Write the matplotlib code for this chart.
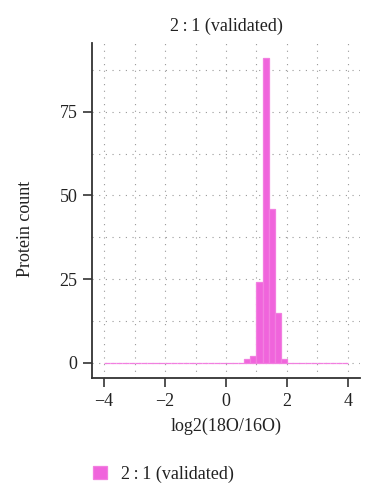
import numpy as np
import matplotlib
matplotlib.use("Agg")
import matplotlib.pyplot as plt

plt.rcParams['font.family'] = ['Liberation Serif', 'DejaVu Serif']

# Data
bin_edges = np.round(np.arange(-4.0, 4.0001, 0.2), 2)
bin_left = bin_edges[:-1]
counts = np.zeros(len(bin_left))
# nonzero bins
nonzero_bins = [0.6, 0.8, 1.0, 1.2, 1.4, 1.6, 1.8]
nonzero_counts = [1, 2, 24, 91, 46, 15, 1]
for b, c in zip(nonzero_bins, nonzero_counts):
    counts[np.argmin(np.abs(bin_left - b))] = c

series_name = "2\u2009:\u20091 (validated)"
x_ticks = [-4, -2, 0, 2, 4]
y_ticks = [0, 25, 50, 75]

bar_color = '#F064DC'
axis_color = '#333333'

fig = plt.figure(figsize=(3.73, 5.0), dpi=100)
ax = fig.add_axes([92/373, 1-378/500, (360-92)/373, (378-43)/500])

ax.bar(bin_left, counts, width=0.2, align='edge', color=bar_color,
       edgecolor='#F27FE0', linewidth=0.9, label=series_name, zorder=3)

ax.set_xlim(-4.4, 4.4)
ax.set_ylim(-4.55, 95.55)
ax.set_xticks(x_ticks)
ax.set_xticklabels([str(t).replace('-', '\u2212') for t in x_ticks])
ax.set_yticks(y_ticks)
ax.set_xticks(np.arange(-3, 4, 2), minor=True)
ax.set_yticks(np.arange(12.5, 95, 25), minor=True)

ax.grid(True, which='both', linestyle=(0, (1, 5)), color='#999999', linewidth=0.8, zorder=0)
ax.tick_params(which='minor', length=0)
ax.tick_params(which='major', length=6.5, width=1.2, color=axis_color, labelsize=13,
               labelcolor='#222222', pad=4)

for s in ['top', 'right']:
    ax.spines[s].set_visible(False)
for s in ['left', 'bottom']:
    ax.spines[s].set_color(axis_color)
    ax.spines[s].set_linewidth(1.3)

ax.set_title(series_name, fontsize=13, color='#222222', pad=9)
ax.set_xlabel('log2(18O/16O)', fontsize=13, color='#222222', labelpad=6)
ax.set_ylabel('Protein count', fontsize=13, color='#222222')
ax.yaxis.set_label_coords(-0.215, 0.445)

fig.legend(loc='center left', bbox_to_anchor=(77/373, 1-474/500), frameon=False,
           fontsize=13, handlelength=0.75, handleheight=0.75, handletextpad=0.8,
           labelcolor='#222222')

fig.savefig('out.png', dpi=100)
